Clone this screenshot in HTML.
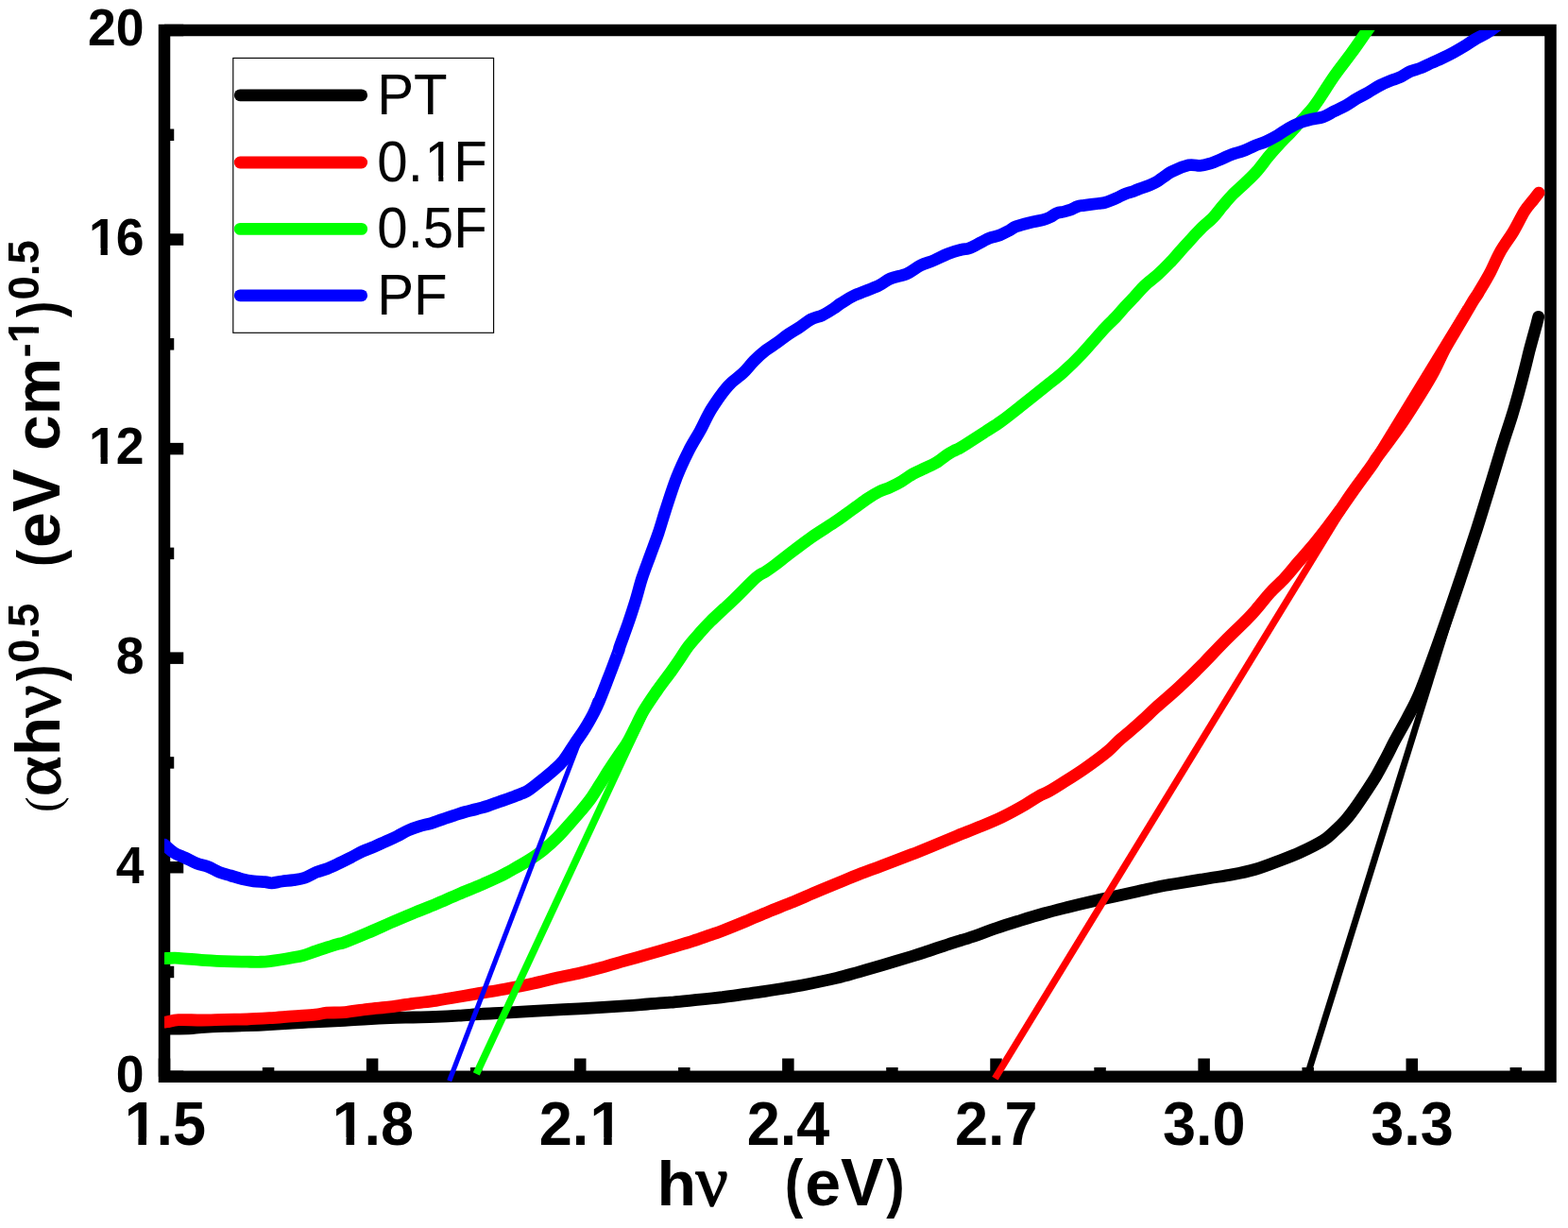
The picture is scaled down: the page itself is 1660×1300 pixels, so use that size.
<!DOCTYPE html>
<html lang="en"><head><meta charset="utf-8"><title>Tauc plot</title>
<style>
html,body{margin:0;padding:0;background:#fff;}
body{width:1660px;height:1300px;overflow:hidden;}
svg{display:block;}
text{font-family:"Liberation Sans",sans-serif;fill:#000;}
.b{font-weight:bold;}
.sym{font-family:"Liberation Serif",serif;font-weight:normal;}
</style></head><body>
<svg width="1660" height="1300" viewBox="0 0 1660 1300">
<rect x="0" y="0" width="1660" height="1300" fill="#fff"/>
<defs><clipPath id="plot"><rect x="174.0" y="32.0" width="1467.5" height="1127.75"/></clipPath></defs>
<g stroke="#000" stroke-width="12.5" fill="none" stroke-linecap="butt">
<rect x="174.0" y="32.0" width="1467.5" height="1107.75"/>
<line x1="174.0" y1="1139.75" x2="194.25" y2="1139.75"/>
<line x1="174.0" y1="1028.97" x2="184.25" y2="1028.97"/>
<line x1="174.0" y1="918.20" x2="194.25" y2="918.20"/>
<line x1="174.0" y1="807.42" x2="184.25" y2="807.42"/>
<line x1="174.0" y1="696.65" x2="194.25" y2="696.65"/>
<line x1="174.0" y1="585.88" x2="184.25" y2="585.88"/>
<line x1="174.0" y1="475.10" x2="194.25" y2="475.10"/>
<line x1="174.0" y1="364.33" x2="184.25" y2="364.33"/>
<line x1="174.0" y1="253.55" x2="194.25" y2="253.55"/>
<line x1="174.0" y1="142.77" x2="184.25" y2="142.77"/>
<line x1="174.0" y1="32.00" x2="194.25" y2="32.00"/>
<line x1="174.00" y1="1139.75" x2="174.00" y2="1120.5"/>
<line x1="284.06" y1="1139.75" x2="284.06" y2="1130.0"/>
<line x1="394.12" y1="1139.75" x2="394.12" y2="1120.5"/>
<line x1="504.19" y1="1139.75" x2="504.19" y2="1130.0"/>
<line x1="614.25" y1="1139.75" x2="614.25" y2="1120.5"/>
<line x1="724.31" y1="1139.75" x2="724.31" y2="1130.0"/>
<line x1="834.37" y1="1139.75" x2="834.37" y2="1120.5"/>
<line x1="944.44" y1="1139.75" x2="944.44" y2="1130.0"/>
<line x1="1054.50" y1="1139.75" x2="1054.50" y2="1120.5"/>
<line x1="1164.56" y1="1139.75" x2="1164.56" y2="1130.0"/>
<line x1="1274.62" y1="1139.75" x2="1274.62" y2="1120.5"/>
<line x1="1384.69" y1="1139.75" x2="1384.69" y2="1130.0"/>
<line x1="1494.75" y1="1139.75" x2="1494.75" y2="1120.5"/>
<line x1="1604.81" y1="1139.75" x2="1604.81" y2="1130.0"/>
</g>
<rect x="246.8" y="61.5" width="275.8" height="290.8" fill="#fff" stroke="#000" stroke-width="1.15"/>
<line x1="254.2" y1="100.8" x2="382.7" y2="100.8" stroke="#000000" stroke-width="12.8" stroke-linecap="round"/>
<g transform="translate(399.30 120.60) scale(1 1.04)">
<text x="0.00 38.82" y="0" font-size="58.2" font-weight="normal">PT</text>
</g>
<line x1="254.2" y1="172.0" x2="382.7" y2="172.0" stroke="#ff0000" stroke-width="12.8" stroke-linecap="round"/>
<g transform="translate(399.30 191.80) scale(1 1.04)">
<text x="0.00 32.37 50.30 80.91" y="0" font-size="58.2" font-weight="normal">0.1F</text>
<rect x="53.73" y="-5.55" width="11.25" height="7.15" fill="#fff"/>
<rect x="70.03" y="-5.55" width="10.80" height="7.15" fill="#fff"/>
</g>
<line x1="254.2" y1="242.4" x2="382.7" y2="242.4" stroke="#00ff00" stroke-width="12.8" stroke-linecap="round"/>
<g transform="translate(399.30 262.20) scale(1 1.04)">
<text x="0.00 32.37 48.54 80.91" y="0" font-size="58.2" font-weight="normal">0.5F</text>
</g>
<line x1="254.2" y1="312.8" x2="382.7" y2="312.8" stroke="#0000ff" stroke-width="12.8" stroke-linecap="round"/>
<g transform="translate(399.30 332.60) scale(1 1.04)">
<text x="0.00 38.82" y="0" font-size="58.2" font-weight="normal">PF</text>
</g>
<g clip-path="url(#plot)" fill="none" stroke-linejoin="round" stroke-linecap="round">
<path d="M174.0 1089.0C178.3 1089.0 193.5 1089.0 200.0 1088.8C206.5 1088.5 207.0 1087.9 213.2 1087.5C219.4 1087.1 229.3 1086.6 237.3 1086.3C245.3 1086.0 253.4 1086.0 261.4 1085.7C269.4 1085.4 277.5 1085.0 285.5 1084.5C293.5 1084.0 301.6 1083.5 309.6 1083.0C317.6 1082.5 324.5 1082.2 333.7 1081.8C342.9 1081.4 355.8 1080.9 365.0 1080.4C374.2 1079.9 381.1 1079.3 389.1 1078.8C397.1 1078.3 405.2 1077.9 413.2 1077.6C421.2 1077.3 429.3 1077.2 437.3 1077.0C445.3 1076.8 453.4 1076.7 461.4 1076.4C469.4 1076.1 477.5 1075.7 485.5 1075.2C493.5 1074.7 501.6 1073.9 509.6 1073.4C517.6 1072.9 524.5 1072.7 533.7 1072.2C542.9 1071.7 551.8 1071.1 565.0 1070.4C578.2 1069.7 597.1 1068.7 613.2 1067.8C629.3 1066.9 649.4 1065.6 661.4 1064.8C673.4 1064.0 677.5 1063.6 685.5 1063.0C693.5 1062.4 701.6 1061.9 709.6 1061.2C717.6 1060.5 724.5 1059.7 733.7 1058.8C742.9 1057.9 755.6 1056.7 765.0 1055.6C774.4 1054.5 782.5 1053.2 790.0 1052.2C797.5 1051.2 803.3 1050.3 810.0 1049.3C816.7 1048.3 823.5 1047.2 830.0 1046.2C836.5 1045.2 840.0 1044.8 849.3 1043.0C858.5 1041.2 875.5 1037.8 885.5 1035.4C895.5 1033.0 901.6 1031.0 909.6 1028.8C917.6 1026.5 924.5 1024.6 933.7 1021.9C942.9 1019.2 957.3 1014.9 965.0 1012.5C972.7 1010.1 973.3 1009.9 980.0 1007.7C986.7 1005.5 996.7 1002.0 1005.0 999.3C1013.3 996.6 1021.7 994.3 1030.0 991.5C1038.3 988.7 1046.7 985.3 1055.0 982.5C1063.3 979.7 1071.7 977.1 1080.0 974.5C1088.3 971.9 1096.7 969.3 1105.0 967.0C1113.3 964.7 1121.7 962.6 1130.0 960.5C1138.3 958.4 1146.7 956.4 1155.0 954.5C1163.3 952.6 1171.7 950.8 1180.0 949.0C1188.3 947.2 1196.7 945.3 1205.0 943.5C1213.3 941.7 1223.3 939.3 1230.0 938.0C1236.7 936.7 1236.7 936.9 1245.0 935.5C1253.3 934.1 1270.2 931.4 1280.0 929.8C1289.8 928.2 1296.1 927.4 1304.1 925.9C1312.1 924.4 1320.2 922.8 1328.2 920.5C1336.2 918.2 1344.3 915.1 1352.3 912.0C1360.3 909.0 1368.4 906.1 1376.4 902.4C1384.4 898.7 1394.5 893.7 1400.5 890.0C1406.5 886.3 1408.5 883.8 1412.5 880.1C1416.5 876.5 1420.8 872.5 1424.6 868.1C1428.4 863.8 1431.8 859.2 1435.5 854.0C1439.2 848.8 1443.3 842.6 1447.0 837.0C1450.7 831.4 1454.1 826.3 1457.5 820.5C1460.9 814.7 1464.3 808.0 1467.5 802.0C1470.7 796.0 1472.8 791.3 1476.5 784.3C1480.2 777.3 1485.6 768.2 1489.8 760.2C1494.0 752.2 1497.6 746.1 1501.9 736.1C1506.2 726.1 1510.8 713.3 1515.7 700.0C1520.6 686.7 1526.0 671.4 1531.2 656.4C1536.5 641.4 1541.6 626.1 1547.0 610.0C1552.4 593.9 1558.6 575.3 1563.5 560.0C1568.4 544.7 1572.2 532.0 1576.5 518.0C1580.8 504.0 1586.5 484.9 1589.2 476.0C1591.9 467.1 1590.9 470.5 1592.8 464.6C1594.7 458.7 1598.1 448.5 1600.6 440.5C1603.1 432.5 1605.4 424.4 1607.6 416.4C1609.8 408.4 1611.9 400.3 1613.9 392.3C1616.0 384.3 1617.8 376.2 1619.9 368.2C1622.0 360.2 1625.0 349.6 1626.5 344.1C1628.0 338.6 1628.3 336.8 1628.7 335.4" stroke="#000000" stroke-width="12.8"/>
<path d="M174.0 1082.2C174.5 1082.1 174.5 1082.2 177.0 1081.8C179.5 1081.4 183.1 1079.9 189.1 1079.6C195.1 1079.3 205.2 1080.0 213.2 1080.0C221.2 1080.0 229.3 1079.5 237.3 1079.3C245.3 1079.1 253.4 1079.3 261.4 1079.0C269.4 1078.7 277.5 1078.2 285.5 1077.7C293.5 1077.2 301.6 1076.4 309.6 1075.8C317.6 1075.2 327.7 1074.8 333.7 1074.2C339.7 1073.6 340.5 1072.6 345.7 1072.2C350.9 1071.8 357.8 1072.2 365.0 1071.6C372.2 1070.9 381.1 1069.2 389.1 1068.3C397.1 1067.3 405.2 1066.9 413.2 1065.9C421.2 1064.9 429.3 1063.4 437.3 1062.3C445.3 1061.2 453.4 1060.5 461.4 1059.3C469.4 1058.1 477.5 1056.7 485.5 1055.3C493.5 1053.9 501.6 1052.4 509.6 1051.1C517.6 1049.8 524.5 1048.9 533.7 1047.2C542.9 1045.5 555.8 1043.0 565.0 1041.0C574.2 1039.0 581.1 1037.1 589.1 1035.3C597.1 1033.5 605.2 1032.0 613.2 1030.2C621.2 1028.4 629.3 1026.4 637.3 1024.2C645.3 1022.0 653.4 1019.5 661.4 1017.2C669.4 1014.9 677.5 1012.7 685.5 1010.4C693.5 1008.1 701.6 1005.8 709.6 1003.4C717.6 1001.0 726.7 998.4 733.7 996.1C740.7 993.9 746.5 991.7 751.8 989.9C757.0 988.1 758.8 987.6 765.0 985.2C771.2 982.8 781.1 978.8 789.1 975.5C797.1 972.2 805.2 968.6 813.2 965.3C821.2 962.0 829.3 959.0 837.3 955.7C845.3 952.4 853.4 948.8 861.4 945.4C869.4 942.0 877.5 938.7 885.5 935.4C893.5 932.1 901.6 928.6 909.6 925.5C917.6 922.4 924.5 920.0 933.7 916.5C942.9 913.0 955.8 908.2 965.0 904.6C974.2 901.0 981.1 898.1 989.1 894.8C997.1 891.5 1005.2 888.1 1013.2 884.8C1021.2 881.5 1029.3 878.6 1037.3 875.2C1045.3 871.9 1053.4 868.6 1061.4 864.7C1069.4 860.8 1079.1 855.4 1085.5 851.7C1091.9 848.0 1096.0 845.0 1100.0 842.7C1104.0 840.5 1105.6 840.4 1109.6 838.2C1113.6 836.0 1117.7 833.5 1124.1 829.4C1130.5 825.3 1140.2 819.3 1148.2 813.7C1156.2 808.1 1166.3 800.6 1172.3 795.7C1178.3 790.8 1180.3 787.8 1184.3 784.2C1188.3 780.6 1192.1 777.7 1196.4 774.0C1200.7 770.3 1205.4 766.2 1210.0 762.0C1214.6 757.8 1217.7 754.5 1224.1 748.8C1230.5 743.0 1240.2 735.0 1248.2 727.5C1256.2 720.0 1264.3 712.1 1272.3 704.0C1280.3 695.9 1288.4 687.1 1296.4 679.0C1304.4 670.9 1314.5 661.6 1320.5 655.4C1326.5 649.2 1328.5 646.6 1332.5 642.0C1336.5 637.4 1340.0 632.5 1344.6 627.5C1349.1 622.5 1354.7 617.8 1359.8 612.3C1364.9 606.8 1369.8 600.5 1375.0 594.5C1380.2 588.5 1385.7 582.5 1391.0 576.1C1396.3 569.7 1402.2 562.0 1406.8 556.0C1411.4 550.0 1414.4 545.9 1418.6 540.0C1422.8 534.1 1426.6 528.2 1432.1 520.5C1437.5 512.8 1447.0 500.0 1451.3 494.0C1455.6 488.0 1454.3 489.2 1457.8 484.3C1461.3 479.4 1467.5 471.4 1472.4 464.6C1477.3 457.8 1482.0 451.4 1487.3 443.4C1492.6 435.4 1499.4 424.6 1504.5 416.4C1509.6 408.2 1513.4 402.0 1517.7 394.0C1522.0 386.0 1525.9 376.5 1530.4 368.2C1534.9 359.9 1539.9 352.1 1544.6 344.1C1549.3 336.1 1555.3 325.7 1558.7 320.0C1562.1 314.3 1561.9 315.4 1565.1 310.1C1568.2 304.8 1573.8 295.6 1577.6 288.4C1581.4 281.2 1584.0 274.0 1588.1 266.8C1592.2 259.5 1597.9 252.3 1602.2 245.1C1606.5 237.9 1610.7 228.8 1614.1 223.4C1617.5 218.0 1620.1 215.7 1622.6 212.5C1625.1 209.3 1628.0 205.5 1629.1 204.1" stroke="#ff0000" stroke-width="12.8"/>
<path d="M174.0 1014.6C176.5 1014.5 182.6 1014.0 189.1 1014.3C195.6 1014.6 205.2 1015.8 213.2 1016.4C221.2 1017.0 229.3 1017.3 237.3 1017.6C245.3 1017.9 255.4 1018.1 261.4 1018.2C267.4 1018.3 269.4 1018.4 273.4 1018.3C277.4 1018.2 279.5 1018.4 285.5 1017.6C291.5 1016.8 303.6 1014.8 309.6 1013.7C315.6 1012.7 317.6 1012.4 321.6 1011.3C325.6 1010.2 329.7 1008.5 333.7 1007.1C337.7 1005.7 341.7 1004.4 345.7 1003.1C349.7 1001.8 354.6 1000.2 357.8 999.3C361.0 998.4 359.8 999.5 365.0 997.5C370.2 995.5 381.1 991.0 389.1 987.6C397.1 984.2 405.2 980.5 413.2 977.0C421.2 973.5 429.3 970.1 437.3 966.8C445.3 963.4 453.4 960.5 461.4 957.1C469.4 953.7 477.5 950.0 485.5 946.6C493.5 943.2 502.4 939.7 509.6 936.6C516.8 933.5 523.6 930.4 528.7 928.0C533.8 925.6 534.8 924.9 540.0 922.0C545.2 919.1 554.2 914.2 560.0 910.5C565.8 906.8 570.0 904.0 575.0 900.0C580.0 896.0 585.0 891.5 590.0 886.5C595.0 881.5 600.8 874.7 605.0 870.0C609.2 865.3 611.5 862.7 615.0 858.5C618.5 854.3 622.4 849.7 625.7 845.0C629.0 840.3 631.8 835.5 635.0 830.5C638.2 825.5 641.5 819.9 644.7 815.0C647.9 810.1 650.8 805.8 654.0 801.0C657.2 796.2 660.9 791.6 664.0 786.4C667.1 781.2 669.6 775.6 672.5 770.0C675.4 764.4 677.6 759.0 681.4 752.6C685.1 746.3 690.1 739.1 695.0 732.0C699.9 724.9 706.7 716.2 711.0 710.2C715.3 704.2 717.9 700.3 720.8 696.0C723.7 691.7 725.2 688.8 728.4 684.6C731.6 680.4 736.0 675.5 740.0 671.0C744.0 666.5 746.4 663.5 752.5 657.5C758.6 651.5 768.6 642.7 776.6 635.0C784.6 627.3 795.1 616.2 800.7 611.3C806.3 606.4 806.8 607.6 810.0 605.5C813.2 603.4 816.0 601.5 820.0 598.5C824.0 595.5 827.7 592.4 834.1 587.5C840.5 582.6 850.2 575.0 858.2 569.4C866.2 563.8 876.3 557.7 882.3 553.7C888.3 549.7 890.3 548.2 894.3 545.3C898.3 542.4 902.4 539.4 906.4 536.5C910.4 533.6 914.4 530.4 918.4 527.8C922.4 525.1 926.5 522.6 930.5 520.6C934.5 518.6 938.5 517.7 942.5 515.8C946.5 513.9 950.6 511.8 954.6 509.4C958.6 507.0 962.6 503.9 966.6 501.6C970.6 499.4 974.7 497.8 978.7 495.9C982.7 494.0 986.7 492.5 990.7 490.1C994.7 487.7 999.6 483.5 1002.8 481.4C1006.0 479.2 1007.5 478.5 1010.0 477.2C1012.5 475.9 1012.1 476.8 1017.5 473.5C1022.9 470.2 1035.4 462.1 1042.5 457.5C1049.6 452.9 1053.8 450.5 1060.0 446.0C1066.2 441.5 1072.2 436.7 1080.0 430.5C1087.8 424.3 1099.4 415.1 1107.0 409.0C1114.6 402.9 1119.2 399.7 1125.5 394.0C1131.8 388.3 1137.7 382.8 1145.0 375.0C1152.3 367.2 1163.5 354.0 1169.5 347.5C1175.5 341.0 1177.6 339.6 1181.0 336.0C1184.4 332.4 1186.5 329.6 1189.8 326.0C1193.1 322.4 1196.9 318.5 1200.6 314.6C1204.2 310.7 1207.5 306.5 1211.7 302.5C1215.9 298.5 1221.5 294.5 1225.9 290.5C1230.3 286.5 1234.4 282.4 1238.2 278.4C1242.0 274.4 1245.4 270.4 1249.0 266.4C1252.6 262.4 1256.2 258.3 1259.9 254.3C1263.6 250.3 1267.0 246.3 1271.1 242.3C1275.2 238.3 1280.4 234.2 1284.3 230.2C1288.2 226.2 1290.8 222.2 1294.2 218.2C1297.6 214.2 1300.8 210.2 1304.8 206.1C1308.8 202.0 1314.0 197.7 1318.3 193.6C1322.6 189.5 1326.4 186.1 1330.6 181.3C1334.8 176.5 1339.4 169.9 1343.5 165.0C1347.6 160.1 1351.2 156.1 1355.0 152.0C1358.8 147.9 1362.4 144.4 1366.1 140.5C1369.8 136.6 1373.3 132.5 1377.0 128.5C1380.7 124.5 1384.8 120.4 1388.1 116.4C1391.4 112.4 1392.8 110.3 1396.9 104.3C1401.0 98.3 1407.2 88.2 1412.8 80.2C1418.4 72.2 1425.0 64.1 1430.8 56.1C1436.6 48.1 1442.5 39.4 1447.7 32.0C1452.9 24.7 1459.6 15.3 1462.0 12.0" stroke="#00ff00" stroke-width="12.8"/>
<path d="M174.0 894.2C175.7 895.6 180.4 900.3 184.1 902.6C187.8 905.0 192.1 906.2 196.1 908.1C200.1 910.0 204.2 912.6 208.2 914.1C212.2 915.6 216.2 915.9 220.2 917.4C224.2 918.9 228.3 921.8 232.3 923.4C236.3 925.0 240.3 925.8 244.3 927.0C248.3 928.2 252.4 929.6 256.4 930.6C260.4 931.6 264.4 932.3 268.4 932.8C272.4 933.3 277.3 933.3 280.5 933.6C283.7 933.9 284.7 934.9 287.7 934.8C290.7 934.7 294.8 933.5 298.6 933.0C302.4 932.5 306.6 932.2 310.6 931.6C314.6 931.0 318.6 930.6 322.6 929.2C326.7 927.8 330.7 925.0 334.7 923.4C338.7 921.8 342.5 921.2 346.8 919.5C351.0 917.8 355.8 915.4 360.0 913.4C364.2 911.4 368.0 909.4 372.1 907.4C376.1 905.3 380.1 902.9 384.1 901.1C388.1 899.3 392.1 898.0 396.1 896.3C400.1 894.6 404.2 892.6 408.2 890.8C412.2 889.0 416.2 887.4 420.2 885.4C424.2 883.4 428.3 880.8 432.3 879.0C436.3 877.2 440.3 875.8 444.3 874.6C448.3 873.4 452.4 872.8 456.4 871.6C460.4 870.4 464.4 868.7 468.4 867.4C472.4 866.0 476.5 864.7 480.5 863.4C484.5 862.1 488.5 860.6 492.5 859.5C496.5 858.4 500.6 857.6 504.6 856.5C508.6 855.4 512.6 854.4 516.6 853.1C520.6 851.8 524.7 850.1 528.7 848.7C532.7 847.3 536.7 846.0 540.7 844.5C544.7 843.0 549.6 841.3 552.8 839.9C556.0 838.5 556.3 838.8 560.0 836.3C563.7 833.8 570.7 828.1 575.0 824.6C579.3 821.1 582.4 818.7 586.0 815.5C589.6 812.3 592.7 810.0 596.4 805.3C600.1 800.6 604.5 793.1 608.4 787.2C612.3 781.3 616.1 776.7 620.0 770.1C623.9 763.5 628.1 756.3 632.0 747.8C635.9 739.3 639.9 728.5 643.6 718.9C647.4 709.3 652.4 695.7 654.5 690.0C656.6 684.3 654.4 689.5 656.1 684.6C657.8 679.7 662.0 668.5 664.8 660.5C667.6 652.5 670.2 644.4 672.7 636.4C675.2 628.4 677.0 620.3 679.6 612.3C682.2 604.3 685.4 596.2 688.3 588.2C691.2 580.2 694.4 572.1 697.1 564.1C699.8 556.1 701.4 549.9 704.6 540.0C707.8 530.1 712.4 515.4 716.5 505.0C720.6 494.6 724.9 485.7 729.0 477.5C733.1 469.3 737.1 463.5 741.2 456.0C745.3 448.5 748.5 440.4 753.5 432.5C758.5 424.6 765.5 414.6 771.0 408.4C776.5 402.2 781.8 399.6 786.4 395.2C791.0 390.8 794.4 385.9 798.4 381.9C802.4 377.9 806.5 374.3 810.5 371.1C814.5 367.9 818.5 365.8 822.5 362.9C826.5 360.0 830.6 356.6 834.6 353.9C838.6 351.1 842.6 349.0 846.6 346.4C850.6 343.8 854.7 340.1 858.7 338.0C862.7 335.9 866.7 335.6 870.7 333.7C874.7 331.8 879.6 328.6 882.8 326.5C886.0 324.4 886.3 323.6 890.0 321.3C893.7 319.0 898.3 315.6 905.0 312.5C911.7 309.4 923.8 305.4 930.0 302.5C936.2 299.6 937.5 297.1 942.5 295.0C947.5 292.9 954.7 292.2 960.0 289.9C965.3 287.6 969.7 283.4 974.5 281.0C979.3 278.6 984.1 277.6 988.9 275.5C993.7 273.4 998.6 270.6 1003.4 268.7C1008.2 266.8 1014.2 265.2 1017.8 264.3C1021.4 263.4 1022.7 263.9 1025.1 263.2C1027.5 262.5 1028.7 261.8 1032.3 260.0C1035.9 258.2 1042.4 254.1 1046.7 252.3C1051.0 250.5 1054.7 250.4 1058.3 249.0C1061.9 247.6 1065.5 245.6 1068.4 244.1C1071.3 242.6 1072.1 241.2 1075.7 239.8C1079.3 238.4 1085.3 236.9 1090.1 235.7C1094.9 234.5 1101.0 233.6 1104.6 232.6C1108.2 231.6 1109.4 231.1 1111.8 229.9C1114.2 228.7 1116.6 226.6 1119.0 225.6C1121.4 224.6 1123.9 224.7 1126.3 224.1C1128.7 223.5 1131.1 222.9 1133.5 222.0C1135.9 221.1 1138.3 219.4 1140.7 218.6C1143.1 217.8 1144.3 217.9 1147.9 217.4C1151.5 216.9 1158.8 216.0 1162.4 215.5C1166.0 215.0 1167.2 215.1 1169.6 214.5C1172.0 213.9 1174.5 212.9 1176.9 211.9C1179.3 210.9 1181.7 209.8 1184.1 208.7C1186.5 207.6 1188.6 206.3 1191.3 205.3C1194.0 204.3 1197.8 203.3 1200.0 202.5C1202.2 201.7 1200.5 202.2 1204.2 200.7C1207.9 199.2 1216.3 196.9 1222.3 193.7C1228.3 190.5 1234.4 184.8 1240.4 181.7C1246.4 178.5 1253.4 175.9 1258.4 174.8C1263.4 173.8 1266.9 175.6 1270.5 175.4C1274.1 175.2 1276.4 174.5 1280.0 173.4C1283.6 172.3 1288.0 170.5 1292.0 168.8C1296.1 167.1 1300.1 164.9 1304.1 163.4C1308.1 161.9 1312.1 161.3 1316.1 159.8C1320.1 158.3 1324.2 156.0 1328.2 154.3C1332.2 152.6 1336.2 151.6 1340.2 149.8C1344.2 148.0 1348.3 145.8 1352.3 143.5C1356.3 141.2 1360.3 138.0 1364.3 135.7C1368.3 133.4 1372.4 131.5 1376.4 129.9C1380.4 128.3 1384.4 127.3 1388.4 126.3C1392.4 125.3 1396.5 125.3 1400.5 123.9C1404.5 122.5 1408.5 119.8 1412.5 117.8C1416.5 115.8 1420.6 114.0 1424.6 111.8C1428.6 109.5 1432.6 106.6 1436.6 104.3C1440.6 102.0 1444.7 100.0 1448.7 97.7C1452.7 95.4 1456.7 92.6 1460.7 90.5C1464.7 88.4 1469.3 86.5 1472.8 85.1C1476.2 83.7 1478.1 83.6 1481.4 82.0C1484.8 80.4 1489.1 77.4 1492.9 75.7C1496.7 74.0 1500.5 73.4 1504.3 71.9C1508.1 70.4 1512.0 68.2 1515.8 66.5C1519.6 64.8 1523.4 63.2 1527.2 61.4C1531.0 59.6 1534.9 57.7 1538.7 55.6C1542.5 53.5 1546.3 51.3 1550.1 49.0C1553.9 46.7 1557.8 43.8 1561.6 41.6C1565.4 39.4 1569.2 37.9 1573.0 35.6C1576.8 33.3 1580.8 30.2 1584.5 27.6C1588.2 25.0 1593.2 21.3 1595.0 20.0" stroke="#0000ff" stroke-width="12.8"/>
</g>
<g fill="none" stroke-linecap="butt">
<line x1="475.7" y1="1144.3" x2="630.6" y2="740.0" stroke="#0000ff" stroke-width="5.2"/>
<line x1="504.3" y1="1136.9" x2="686.0" y2="747.0" stroke="#00ff00" stroke-width="7.7"/>
<line x1="1053.4" y1="1141.6" x2="1552.1" y2="326.0" stroke="#ff0000" stroke-width="7.4"/>
<line x1="1385.45" y1="1134.0" x2="1536.0" y2="650.0" stroke="#000000" stroke-width="7.0"/>
</g>
<g class="b">
<g transform="translate(122.80 1156.30) scale(1 1.03)">
<text x="0.00" y="0" font-size="53.5" font-weight="bold">0</text>
</g>
<g transform="translate(122.80 934.61) scale(1 1.03)">
<text x="0.00" y="0" font-size="53.5" font-weight="bold">4</text>
</g>
<g transform="translate(122.80 712.92) scale(1 1.03)">
<text x="0.00" y="0" font-size="53.5" font-weight="bold">8</text>
</g>
<g transform="translate(93.04 491.23) scale(1 1.03)">
<text x="1.02 29.75" y="0" font-size="53.5" font-weight="bold">12</text>
<rect x="3.39" y="-6.66" width="10.17" height="8.26" fill="#fff"/>
<rect x="20.80" y="-6.66" width="9.49" height="8.26" fill="#fff"/>
</g>
<g transform="translate(93.04 269.54) scale(1 1.03)">
<text x="1.02 29.75" y="0" font-size="53.5" font-weight="bold">16</text>
<rect x="3.39" y="-6.66" width="10.17" height="8.26" fill="#fff"/>
<rect x="20.80" y="-6.66" width="9.49" height="8.26" fill="#fff"/>
</g>
<g transform="translate(93.04 47.85) scale(1 1.03)">
<text x="0.00 29.75" y="0" font-size="53.5" font-weight="bold">20</text>
</g>
<g transform="translate(130.46 1212.00) scale(1 1.04)">
<text x="1.20 35.04 52.54" y="0" font-size="63.0" font-weight="bold">1.5</text>
<rect x="4.17" y="-7.63" width="11.79" height="9.23" fill="#fff"/>
<rect x="24.50" y="-7.63" width="10.99" height="9.23" fill="#fff"/>
</g>
<g transform="translate(350.59 1212.00) scale(1 1.04)">
<text x="1.20 35.04 52.54" y="0" font-size="63.0" font-weight="bold">1.8</text>
<rect x="4.17" y="-7.63" width="11.79" height="9.23" fill="#fff"/>
<rect x="24.50" y="-7.63" width="10.99" height="9.23" fill="#fff"/>
</g>
<g transform="translate(570.71 1212.00) scale(1 1.04)">
<text x="0.00 35.04 53.74" y="0" font-size="63.0" font-weight="bold">2.1</text>
<rect x="56.71" y="-7.63" width="11.79" height="9.23" fill="#fff"/>
<rect x="77.04" y="-7.63" width="10.99" height="9.23" fill="#fff"/>
</g>
<g transform="translate(790.84 1212.00) scale(1 1.04)">
<text x="0.00 35.04 52.54" y="0" font-size="63.0" font-weight="bold">2.4</text>
</g>
<g transform="translate(1010.96 1212.00) scale(1 1.04)">
<text x="0.00 35.04 52.54" y="0" font-size="63.0" font-weight="bold">2.7</text>
</g>
<g transform="translate(1231.09 1212.00) scale(1 1.04)">
<text x="0.00 35.04 52.54" y="0" font-size="63.0" font-weight="bold">3.0</text>
</g>
<g transform="translate(1451.21 1212.00) scale(1 1.04)">
<text x="0.00 35.04 52.54" y="0" font-size="63.0" font-weight="bold">3.3</text>
</g>
</g>
<text class="b" font-size="68.0" transform="translate(0 1275.7)"><tspan font-size="67.2" x="695.45" y="0.00" textLength="41.54" lengthAdjust="spacingAndGlyphs">h</tspan><tspan class="sym" font-size="76" x="736.50" y="0.10" stroke="#000" stroke-width="1.4" stroke-linejoin="round">ν</tspan><tspan x="790.00" y="0.00"> </tspan><tspan x="830.69" y="0.00" textLength="19.47" lengthAdjust="spacingAndGlyphs">(</tspan><tspan x="852.34" y="0.00">e</tspan><tspan font-size="70.7" x="890.04" y="0.00" textLength="45.36" lengthAdjust="spacingAndGlyphs">V</tspan><tspan x="938.34" y="0.00" textLength="19.47" lengthAdjust="spacingAndGlyphs">)</tspan></text>
<text class="b" font-size="68.0" transform="translate(62.5 0) rotate(-90)"><tspan class="sym" font-size="50" x="-860.10" y="-0.80">(</tspan><tspan class="sym" font-size="72" x="-842.94" y="0.60" textLength="42.25" lengthAdjust="spacingAndGlyphs" stroke="#000" stroke-width="1.6" stroke-linejoin="round">α</tspan><tspan font-size="67.2" x="-800.25" y="0.00" textLength="41.54" lengthAdjust="spacingAndGlyphs">h</tspan><tspan class="sym" font-size="76" x="-759.40" y="0.60" stroke="#000" stroke-width="1.4" stroke-linejoin="round">ν</tspan><tspan font-size="62.5" x="-721.00" y="0.20" textLength="17.48" lengthAdjust="spacingAndGlyphs">)</tspan><tspan font-size="47.0" x="-702.10" y="-21.40" textLength="63.39" lengthAdjust="spacingAndGlyphs">0.5</tspan><tspan x="-620.00" y="0.00"> </tspan><tspan font-size="62.5" x="-600.11" y="0.20" textLength="18.11" lengthAdjust="spacingAndGlyphs">(</tspan><tspan x="-580.06" y="0.00">e</tspan><tspan font-size="70.7" x="-542.06" y="0.00" textLength="45.36" lengthAdjust="spacingAndGlyphs">V</tspan><tspan x="-495.00" y="0.00"> </tspan><tspan x="-476.96" y="0.00">cm</tspan><tspan font-size="47.0" x="-378.48" y="-21.40" textLength="40.55" lengthAdjust="spacingAndGlyphs">-1</tspan><tspan font-size="62.5" x="-335.95" y="0.20" textLength="17.48" lengthAdjust="spacingAndGlyphs">)</tspan><tspan font-size="47.0" x="-317.50" y="-21.40" textLength="63.39" lengthAdjust="spacingAndGlyphs">0.5</tspan></text>
<g transform="translate(62.5 0) rotate(-90)" fill="#fff"><rect x="-361.42" y="-27.40" width="8.82" height="7.60"/><rect x="-346.45" y="-27.40" width="8.24" height="7.60"/></g>
</svg></body></html>
